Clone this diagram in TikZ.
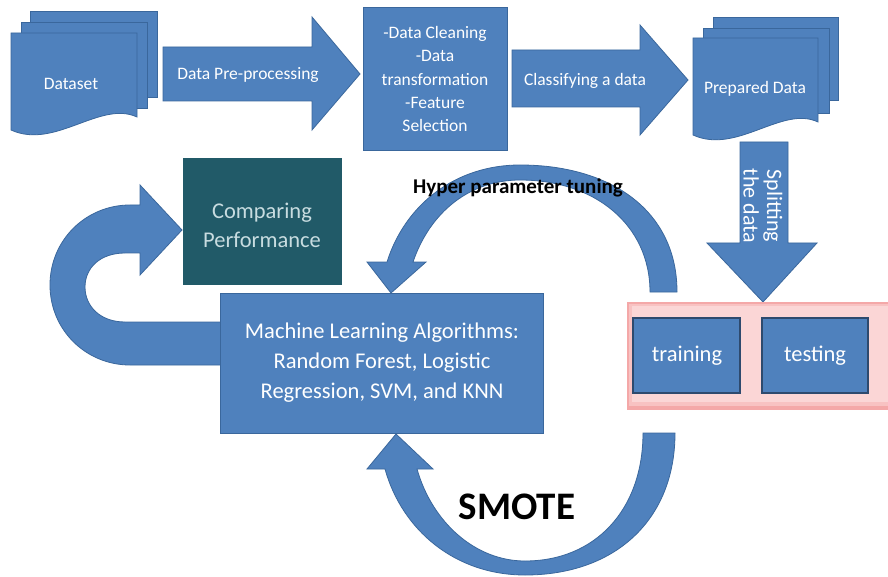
\documentclass[tikz,border=0pt]{standalone}
\usepackage{fontspec}
\setmainfont{Carlito}
\definecolor{blk}{HTML}{4F81BD}
\definecolor{blkline}{HTML}{3A679C}
\definecolor{tealbox}{HTML}{215A68}
\definecolor{tealtext}{HTML}{C8DCE0}
\definecolor{pinkin}{HTML}{FBD6D6}
\definecolor{pinkmid}{HTML}{F8C2C2}
\definecolor{pinkout}{HTML}{F4A8A8}
\definecolor{boxline}{HTML}{2E4A6E}
\begin{document}
\begin{tikzpicture}[x=1pt,y=-1pt,
  shp/.style={fill=blk,draw=blkline,line width=0.8pt},
  lbl/.style={text=white,align=center,inner sep=0pt},
  small/.style={font=\fontsize{17.5}{23.3}\selectfont},
  big/.style={font=\fontsize{22.5}{30}\selectfont}]
\useasboundingbox (0,0) rectangle (888,577);
\fill[white] (0,0) rectangle (888,577);

% Dataset stack
\draw[shp] (30,11) rectangle (157,97);
\draw[shp] (21,22) rectangle (147,108);
\draw[shp] (11,33) -- (137,33) -- (137,117) .. controls (100,100) and (55,150) .. (11,130) -- cycle;
\node[lbl,small] (dataset) at (71,84) {Dataset};

% Data pre-processing arrow
\draw[shp] (163,47) -- (312,47) -- (312,17) -- (360,74) -- (312,130) -- (312,101) -- (163,101) -- cycle;
\node[lbl,small] (pre) at (248,75) {Data Pre-processing};

% Cleaning box
\draw[shp] (363,7) rectangle (507,150);
\node[lbl,small] (clean) at (435,79) {-Data Cleaning\\-Data\\transformation\\-Feature\\Selection};

% Classifying arrow
\draw[shp] (512,50) -- (640,50) -- (640,25) -- (688,80) -- (640,135) -- (640,107) -- (512,107) -- cycle;
\node[lbl,small] (classify) at (585,81) {Classifying a data};

% Prepared data stack
\draw[shp] (713,17) rectangle (838,100);
\draw[shp] (703,28) rectangle (829,113);
\draw[shp] (693,38) -- (818,38) -- (818,122) .. controls (782,105) and (737,155) .. (693,135) -- cycle;
\node[lbl,small] (prepared) at (755,89) {Prepared Data};

% Splitting arrow
\draw[shp] (740,142) -- (788,142) -- (788,243) -- (817,243) -- (763,302) -- (707,243) -- (740,243) -- cycle;
\node[lbl,rotate=-90,font=\fontsize{22}{23.5}\selectfont] (split) at (763,206) {Splitting\\the data};

% Pink panel
\fill[pinkout] (627,302) rectangle (888,410);
\fill[pinkmid] (629,304) rectangle (888,406);
\fill[pinkin] (632,306) rectangle (888,402);
\draw[fill=blk,draw=boxline,line width=1.2pt] (633,318) rectangle (740,393);
\draw[fill=blk,draw=boxline,line width=1.2pt] (762,318) rectangle (868,393);
\node[lbl,big] (training) at (687,356) {training};
\node[lbl,big] (testing) at (815,356) {testing};

% U-turn arrow (left)
\draw[shp] (222,365) -- (130,365) .. controls (86,365) and (50,330) .. (50,285)
  .. controls (50,240) and (86,205) .. (130,205) -- (140,205) -- (140,185) -- (182,230)
  -- (140,275) -- (140,253) -- (125,253) .. controls (100,253) and (85,268) .. (85,287)
  .. controls (85,306) and (100,322) .. (125,322) -- (222,322) -- cycle;

% Comparing box
\fill[tealbox] (183,158) rectangle (342,285);
\node[align=center,inner sep=0pt,text=tealtext,font=\fontsize{22.5}{29}\selectfont] (compare) at (262,225) {Comparing\\Performance};

% Hyper parameter tuning arc
\draw[shp] (677,292) .. controls (677,210) and (610,165) .. (520,165)
  .. controls (455,165) and (405,205) .. (387,262) -- (367,262) -- (391,293) -- (426,262) -- (413,262)
  .. controls (430,212) and (470,180) .. (520,180)
  .. controls (595,180) and (650,225) .. (650,292) -- cycle;
\node[inner sep=0pt,font=\bfseries\fontsize{21}{24}\selectfont] (hyper) at (518,188) {Hyper parameter tuning};

% SMOTE arc
\draw[shp] (643,433) -- (675,433) .. controls (675,520) and (615,575) .. (525,575)
  .. controls (455,575) and (402,530) .. (385,469) -- (367,469) -- (396,434) -- (433,469) -- (417,469)
  .. controls (432,522) and (475,561) .. (525,561)
  .. controls (595,561) and (643,510) .. (643,433) -- cycle;
\node[inner sep=0pt,font=\bfseries\fontsize{39}{44}\selectfont] (smote) at (517,507) {SMOTE};

% ML box
\draw[shp] (220,293) rectangle (543,433);
\node[lbl,big] (ml) at (382,363) {Machine Learning Algorithms:\\Random Forest, Logistic\\Regression, SVM, and KNN};
\end{tikzpicture}
\end{document}
